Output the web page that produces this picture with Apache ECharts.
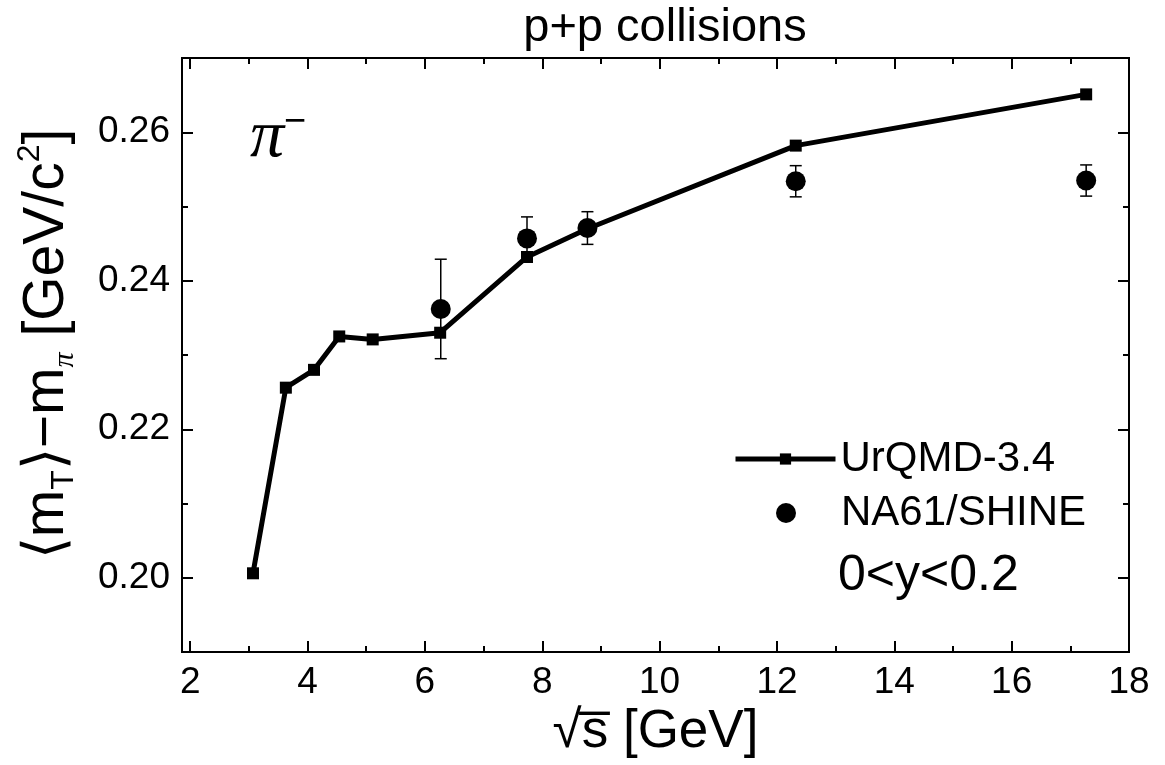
<!DOCTYPE html>
<html>
<head>
<meta charset="utf-8">
<title>p+p collisions</title>
<script src="https://cdn.jsdelivr.net/npm/echarts@6/dist/echarts.min.js"></script>
<style>
  html, body { margin: 0; padding: 0; background: #fff; }
  #main { width: 1165px; height: 765px; }
</style>
</head>
<body>
<div id="main"></div>
<script>
// UrQMD-3.4 model, <mT>-m for pi-, 0<y<0.2
var urqmdSqrtS = [3.07, 3.63, 4.11, 4.54, 5.11, 6.26, 7.74, 8.77, 12.32, 17.27];
var urqmdMt    = [0.2006, 0.2256, 0.2280, 0.2325, 0.2321, 0.2330, 0.2432, 0.2470, 0.2582, 0.2651];

// NA61/SHINE measurement with errors
var na61SqrtS = [6.27, 7.74, 8.77, 12.32, 17.27];
var na61Mt    = [0.2362, 0.2457, 0.2471, 0.2534, 0.2535];
var na61Err   = [0.0067, 0.0029, 0.0022, 0.0021, 0.0021];

// axis ticks
var xMajor = [2, 4, 6, 8, 10, 12, 14, 16, 18];
var xMinor = [3, 5, 7, 9, 11, 13, 15, 17];
var yMajor = [0.20, 0.22, 0.24, 0.26];
var yMinor = [0.21, 0.23, 0.25];

var FONT = 'Liberation Sans, Arial, Helvetica, sans-serif';
var xMin = 1.86, xMax = 18, yMin = 0.19, yMax = 0.27;

function axis(dir, pos, ticks, len, withLabels) {
  var a = {
    type: 'value',
    position: pos,
    min: dir == 'x' ? xMin : yMin,
    max: dir == 'x' ? xMax : yMax,
    axisLine: { show: true, onZero: false, lineStyle: { color: '#000', width: 2 } },
    axisTick: { show: true, inside: true, length: len, customValues: ticks,
                lineStyle: { color: '#000', width: 2 } },
    axisLabel: { show: withLabels, customValues: ticks, color: '#000',
                 fontFamily: FONT, fontSize: 37, margin: 12,
                 formatter: function (v) { return dir == 'y' ? v.toFixed(2) : String(v); } },
    splitLine: { show: false }
  };
  return a;
}

var xAxes = [
  axis('x', 'bottom', xMajor, 11, true),
  axis('x', 'bottom', xMinor, 6, false),
  axis('x', 'top', xMajor, 11, false),
  axis('x', 'top', xMinor, 6, false)
];
xAxes[0].name = '\u221As\u0305 [GeV]';
xAxes[0].nameLocation = 'middle';
xAxes[0].nameGap = 54;
xAxes[0].nameTextStyle = { fontFamily: FONT, fontSize: 53, color: '#000' };

var yAxes = [
  axis('y', 'left', yMajor, 11, true),
  axis('y', 'left', yMinor, 6, false),
  axis('y', 'right', yMajor, 11, false),
  axis('y', 'right', yMinor, 6, false)
];
yAxes[0].name = '\u27E8m{sub|T}\u27E9\u2212m{pi|\u03C0} [GeV/c{sup|2}]';
yAxes[0].nameLocation = 'middle';
yAxes[0].nameGap = 102;
yAxes[0].nameTextStyle = {
  fontFamily: FONT, fontSize: 57, color: '#000', lineHeight: 66,
  padding: [0, 0, 0, 22],
  rich: {
    sub: { fontFamily: FONT, fontSize: 32, color: '#000', lineHeight: 32, verticalAlign: 'bottom' },
    pi: { fontFamily: 'Liberation Serif, serif', fontStyle: 'italic', fontSize: 30, color: '#000', lineHeight: 30, verticalAlign: 'bottom' },
    sup: { fontFamily: FONT, fontSize: 32, color: '#000', lineHeight: 32, verticalAlign: 'top' }
  }
};

var errData = na61SqrtS.map(function (x, i) {
  return [x, na61Mt[i] - na61Err[i], na61Mt[i] + na61Err[i]];
});

function renderErr(params, api) {
  var x = api.value(0);
  var hi = api.coord([x, api.value(2)]);
  var lo = api.coord([x, api.value(1)]);
  var w = 6;
  var st = { stroke: '#000', lineWidth: 1.5 };
  return {
    type: 'group',
    children: [
      { type: 'line', shape: { x1: hi[0], y1: hi[1], x2: lo[0], y2: lo[1] }, style: st },
      { type: 'line', shape: { x1: hi[0] - w, y1: hi[1], x2: hi[0] + w, y2: hi[1] }, style: st },
      { type: 'line', shape: { x1: lo[0] - w, y1: lo[1], x2: lo[0] + w, y2: lo[1] }, style: st }
    ]
  };
}

var chart = echarts.init(document.getElementById('main'), null, { renderer: 'canvas' });
var option = {
  backgroundColor: '#fff',
  animation: false,
  title: {
    text: 'p+p collisions',
    left: 660,
    top: 0,
    textAlign: 'center',
    textStyle: { fontFamily: FONT, fontSize: 47, fontWeight: 'normal', color: '#000' }
  },
  grid: { left: 182, right: 36, top: 58, bottom: 113, containLabel: false },
  xAxis: xAxes,
  yAxis: yAxes,
  legend: [{
    data: ['UrQMD-3.4'],
    left: 728, top: 433,
    itemWidth: 100, itemHeight: 14,
    lineStyle: { width: 5, color: '#000' },
    textStyle: { fontFamily: FONT, fontSize: 42, color: '#000' }
  }, {
    data: ['NA61/SHINE'],
    left: 771, top: 487,
    itemWidth: 100, itemHeight: 20,
    textStyle: { fontFamily: FONT, fontSize: 42, color: '#000' }
  }],
  graphic: [{
    type: 'text',
    left: 838, top: 551,
    style: { text: '0<y<0.2', fontFamily: FONT, fontSize: 50, fill: '#000' }
  }, {
    type: 'text',
    left: 250, top: 104,
    style: {
      text: '{pi|\u03C0}{m|\u2212}',
      rich: {
        pi: { fontFamily: 'Liberation Serif, serif', fontStyle: 'italic', fontSize: 68, fill: '#000', verticalAlign: 'bottom', lineHeight: 68 },
        m: { fontFamily: FONT, fontSize: 38, fill: '#000', verticalAlign: 'top', lineHeight: 38 }
      }
    }
  }],
  series: [{
    name: 'UrQMD-3.4',
    type: 'line',
    data: urqmdSqrtS.map(function (x, i) { return [x, urqmdMt[i]]; }),
    symbol: 'rect',
    symbolSize: 12,
    lineStyle: { color: '#000', width: 5 },
    itemStyle: { color: '#000' },
    z: 3
  }, {
    name: 'NA61/SHINE',
    type: 'scatter',
    data: na61SqrtS.map(function (x, i) { return [x, na61Mt[i]]; }),
    symbol: 'circle',
    symbolSize: 20,
    itemStyle: { color: '#000', opacity: 1 },
    z: 4
  }, {
    name: 'errors',
    type: 'custom',
    data: errData,
    renderItem: renderErr,
    encode: { x: 0, y: [1, 2] },
    z: 2
  }]
};
chart.setOption(option);
</script>
</body>
</html>
